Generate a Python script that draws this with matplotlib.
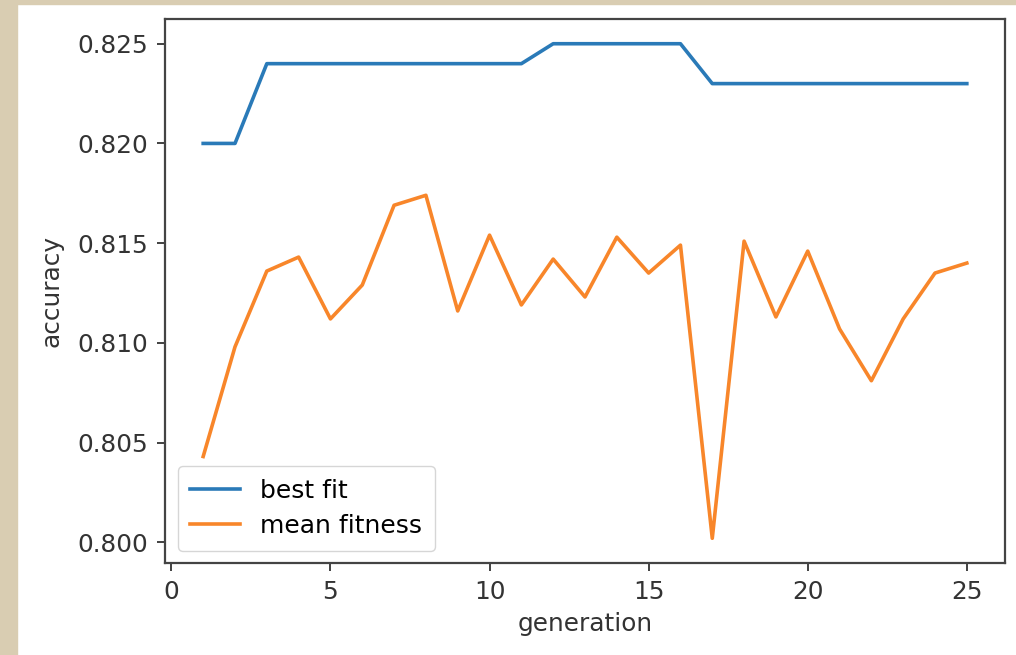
import matplotlib
matplotlib.use("Agg")
import matplotlib.pyplot as plt
from matplotlib.patches import Rectangle

generation = list(range(1, 26))
best_fit = [0.820, 0.820, 0.824, 0.824, 0.824, 0.824, 0.824, 0.824, 0.824, 0.824,
            0.824, 0.825, 0.825, 0.825, 0.825, 0.825, 0.823, 0.823, 0.823, 0.823,
            0.823, 0.823, 0.823, 0.823, 0.823]
mean_fitness = [0.8043, 0.8098, 0.8136, 0.8143, 0.8112, 0.8129, 0.8169, 0.8174, 0.8116, 0.8154,
                0.8119, 0.8142, 0.8123, 0.8153, 0.8135, 0.8149, 0.8002, 0.8151, 0.8113, 0.8146,
                0.8107, 0.8081, 0.8112, 0.8135, 0.8140]

plt.rcParams['font.family'] = ['DejaVu Sans']
plt.rcParams['font.size'] = 17.8

W, H = 1016, 655
fig = plt.figure(figsize=(W / 100, H / 100), dpi=100)

# beige frame from the screenshot
beige = '#d9cdb2'
fig.patches.append(Rectangle((0, 0), 17 / W, 1, transform=fig.transFigure, color=beige, zorder=-1))
fig.patches.append(Rectangle((0, 1 - 4 / H), 1, 4 / H, transform=fig.transFigure, color=beige, zorder=-1))

ax = fig.add_axes([165 / W, (H - 563) / H, (1005 - 165) / W, (563 - 19) / H])
ax.plot(generation, best_fit, color='#2a7ab8', lw=2.6, label='best fit')
ax.plot(generation, mean_fitness, color='#f8862a', lw=2.6, label='mean fitness')

ax.set_xticks([0, 5, 10, 15, 20, 25])
ax.set_yticks([0.800, 0.805, 0.810, 0.815, 0.820, 0.825])
ax.set_yticklabels(['0.800', '0.805', '0.810', '0.815', '0.820', '0.825'])
ax.tick_params(length=6, width=1.3, pad=6, colors='#333333', labelcolor='#333333')
for s in ax.spines.values():
    s.set_linewidth(1.6)
    s.set_color('#444444')

ax.set_xlabel('generation', color='#333333', labelpad=6)
ax.set_ylabel('accuracy', color='#333333', labelpad=10)
ax.legend(loc='lower left', handlelength=2.0, borderpad=0.5, labelspacing=0.45, framealpha=0.8,
          fontsize=18)

fig.savefig('out.png', dpi=100)
